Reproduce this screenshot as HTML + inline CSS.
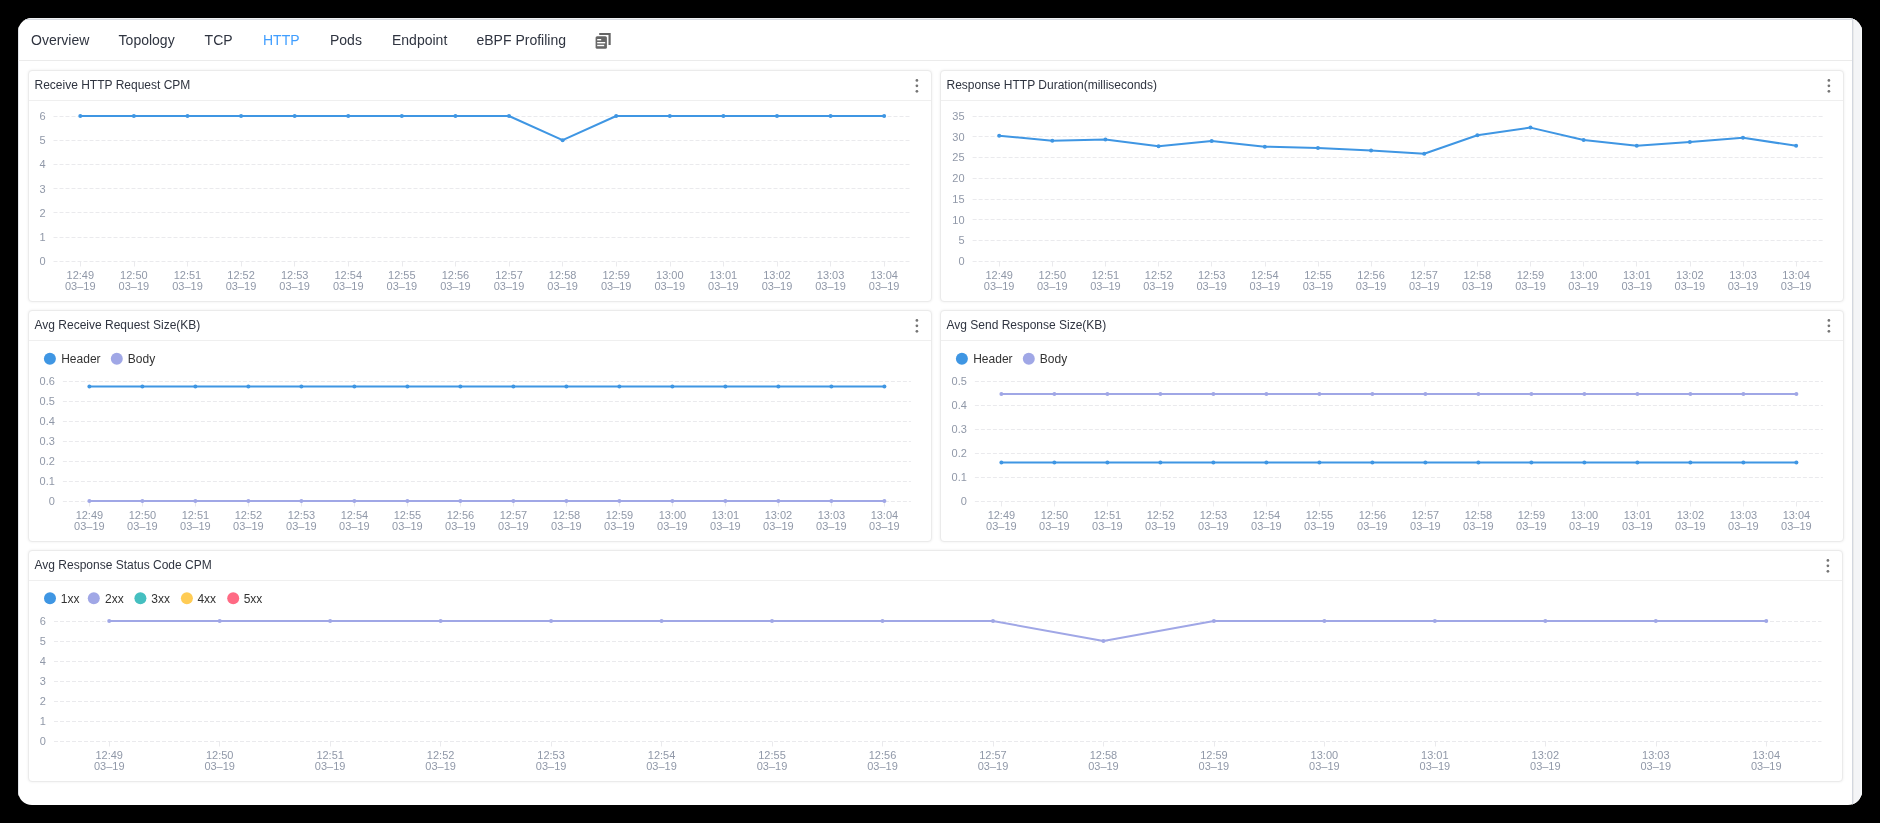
<!DOCTYPE html>
<html><head><meta charset="utf-8"><style>
html,body{margin:0;padding:0;background:#000;width:1880px;height:823px;overflow:hidden;font-family:"Liberation Sans", sans-serif;}
.card{position:absolute;left:18px;top:18px;width:1844px;height:787px;background:#fff;border-radius:14px;overflow:hidden;}
.topline{position:absolute;left:0;top:0;width:100%;height:1px;background:#eef0f3;border-bottom:1px solid #d8dbe2;}
.leftline{position:absolute;left:0;top:0;width:1px;height:100%;background:#dfe2e8;}
.gutter{position:absolute;right:0;top:0;width:9px;height:100%;background:#f4f5f7;border-left:1px solid #d3d7df;box-shadow:inset 1px 0 #e9eaea, inset -1px 0 #f9fafb;}
.tabline{position:absolute;left:0;top:42px;width:1834px;height:1px;background:#ebebeb;}
.p{position:absolute;box-sizing:border-box;border:1px solid #ebebeb;border-radius:4px;background:#fff;box-shadow:0 0 3px rgba(0,0,0,0.07);}
.h{position:absolute;left:0;right:0;top:29px;height:1px;background:#efefef;}
svg{position:absolute;left:0;top:0;will-change:transform;}
</style></head><body>
<div class="card"><div class="topline"></div><div class="leftline"></div><div class="gutter"></div><div class="tabline"></div></div>
<div class="p" style="left:28px;top:70px;width:904px;height:232px"><div class="h"></div></div><div class="p" style="left:940px;top:70px;width:904px;height:232px"><div class="h"></div></div><div class="p" style="left:28px;top:310px;width:904px;height:232px"><div class="h"></div></div><div class="p" style="left:940px;top:310px;width:904px;height:232px"><div class="h"></div></div><div class="p" style="left:28px;top:550px;width:1815px;height:232px"><div class="h"></div></div>
<svg width="1880" height="823" viewBox="0 0 1880 823" font-family=""Liberation Sans", sans-serif">
<line x1="53.50" y1="261.50" x2="910.94" y2="261.50" stroke="#eaeaed" stroke-width="1" stroke-dasharray="4 2"/>
<text x="45.50" y="265.00" font-size="11" fill="#9098a8" text-anchor="end">0</text>
<line x1="53.50" y1="237.50" x2="910.94" y2="237.50" stroke="#eaeaed" stroke-width="1" stroke-dasharray="4 2"/>
<text x="45.50" y="240.83" font-size="11" fill="#9098a8" text-anchor="end">1</text>
<line x1="53.50" y1="212.50" x2="910.94" y2="212.50" stroke="#eaeaed" stroke-width="1" stroke-dasharray="4 2"/>
<text x="45.50" y="216.67" font-size="11" fill="#9098a8" text-anchor="end">2</text>
<line x1="53.50" y1="188.50" x2="910.94" y2="188.50" stroke="#eaeaed" stroke-width="1" stroke-dasharray="4 2"/>
<text x="45.50" y="192.50" font-size="11" fill="#9098a8" text-anchor="end">3</text>
<line x1="53.50" y1="164.50" x2="910.94" y2="164.50" stroke="#eaeaed" stroke-width="1" stroke-dasharray="4 2"/>
<text x="45.50" y="168.33" font-size="11" fill="#9098a8" text-anchor="end">4</text>
<line x1="53.50" y1="140.50" x2="910.94" y2="140.50" stroke="#eaeaed" stroke-width="1" stroke-dasharray="4 2"/>
<text x="45.50" y="144.17" font-size="11" fill="#9098a8" text-anchor="end">5</text>
<line x1="53.50" y1="116.50" x2="910.94" y2="116.50" stroke="#eaeaed" stroke-width="1" stroke-dasharray="4 2"/>
<text x="45.50" y="120.00" font-size="11" fill="#9098a8" text-anchor="end">6</text>
<line x1="80.50" y1="261.50" x2="80.50" y2="266.50" stroke="#eaeaed" stroke-width="1"/>
<text x="80.30" y="279.00" font-size="11" fill="#9098a8" text-anchor="middle">12:49</text>
<text x="80.30" y="290.00" font-size="11" fill="#9098a8" text-anchor="middle">03–19</text>
<line x1="134.50" y1="261.50" x2="134.50" y2="266.50" stroke="#eaeaed" stroke-width="1"/>
<text x="133.88" y="279.00" font-size="11" fill="#9098a8" text-anchor="middle">12:50</text>
<text x="133.88" y="290.00" font-size="11" fill="#9098a8" text-anchor="middle">03–19</text>
<line x1="187.50" y1="261.50" x2="187.50" y2="266.50" stroke="#eaeaed" stroke-width="1"/>
<text x="187.48" y="279.00" font-size="11" fill="#9098a8" text-anchor="middle">12:51</text>
<text x="187.48" y="290.00" font-size="11" fill="#9098a8" text-anchor="middle">03–19</text>
<line x1="241.50" y1="261.50" x2="241.50" y2="266.50" stroke="#eaeaed" stroke-width="1"/>
<text x="241.06" y="279.00" font-size="11" fill="#9098a8" text-anchor="middle">12:52</text>
<text x="241.06" y="290.00" font-size="11" fill="#9098a8" text-anchor="middle">03–19</text>
<line x1="294.50" y1="261.50" x2="294.50" y2="266.50" stroke="#eaeaed" stroke-width="1"/>
<text x="294.66" y="279.00" font-size="11" fill="#9098a8" text-anchor="middle">12:53</text>
<text x="294.66" y="290.00" font-size="11" fill="#9098a8" text-anchor="middle">03–19</text>
<line x1="348.50" y1="261.50" x2="348.50" y2="266.50" stroke="#eaeaed" stroke-width="1"/>
<text x="348.25" y="279.00" font-size="11" fill="#9098a8" text-anchor="middle">12:54</text>
<text x="348.25" y="290.00" font-size="11" fill="#9098a8" text-anchor="middle">03–19</text>
<line x1="402.50" y1="261.50" x2="402.50" y2="266.50" stroke="#eaeaed" stroke-width="1"/>
<text x="401.84" y="279.00" font-size="11" fill="#9098a8" text-anchor="middle">12:55</text>
<text x="401.84" y="290.00" font-size="11" fill="#9098a8" text-anchor="middle">03–19</text>
<line x1="455.50" y1="261.50" x2="455.50" y2="266.50" stroke="#eaeaed" stroke-width="1"/>
<text x="455.43" y="279.00" font-size="11" fill="#9098a8" text-anchor="middle">12:56</text>
<text x="455.43" y="290.00" font-size="11" fill="#9098a8" text-anchor="middle">03–19</text>
<line x1="509.50" y1="261.50" x2="509.50" y2="266.50" stroke="#eaeaed" stroke-width="1"/>
<text x="509.02" y="279.00" font-size="11" fill="#9098a8" text-anchor="middle">12:57</text>
<text x="509.02" y="290.00" font-size="11" fill="#9098a8" text-anchor="middle">03–19</text>
<line x1="562.50" y1="261.50" x2="562.50" y2="266.50" stroke="#eaeaed" stroke-width="1"/>
<text x="562.61" y="279.00" font-size="11" fill="#9098a8" text-anchor="middle">12:58</text>
<text x="562.61" y="290.00" font-size="11" fill="#9098a8" text-anchor="middle">03–19</text>
<line x1="616.50" y1="261.50" x2="616.50" y2="266.50" stroke="#eaeaed" stroke-width="1"/>
<text x="616.20" y="279.00" font-size="11" fill="#9098a8" text-anchor="middle">12:59</text>
<text x="616.20" y="290.00" font-size="11" fill="#9098a8" text-anchor="middle">03–19</text>
<line x1="670.50" y1="261.50" x2="670.50" y2="266.50" stroke="#eaeaed" stroke-width="1"/>
<text x="669.79" y="279.00" font-size="11" fill="#9098a8" text-anchor="middle">13:00</text>
<text x="669.79" y="290.00" font-size="11" fill="#9098a8" text-anchor="middle">03–19</text>
<line x1="723.50" y1="261.50" x2="723.50" y2="266.50" stroke="#eaeaed" stroke-width="1"/>
<text x="723.38" y="279.00" font-size="11" fill="#9098a8" text-anchor="middle">13:01</text>
<text x="723.38" y="290.00" font-size="11" fill="#9098a8" text-anchor="middle">03–19</text>
<line x1="777.50" y1="261.50" x2="777.50" y2="266.50" stroke="#eaeaed" stroke-width="1"/>
<text x="776.97" y="279.00" font-size="11" fill="#9098a8" text-anchor="middle">13:02</text>
<text x="776.97" y="290.00" font-size="11" fill="#9098a8" text-anchor="middle">03–19</text>
<line x1="830.50" y1="261.50" x2="830.50" y2="266.50" stroke="#eaeaed" stroke-width="1"/>
<text x="830.56" y="279.00" font-size="11" fill="#9098a8" text-anchor="middle">13:03</text>
<text x="830.56" y="290.00" font-size="11" fill="#9098a8" text-anchor="middle">03–19</text>
<line x1="884.50" y1="261.50" x2="884.50" y2="266.50" stroke="#eaeaed" stroke-width="1"/>
<text x="884.15" y="279.00" font-size="11" fill="#9098a8" text-anchor="middle">13:04</text>
<text x="884.15" y="290.00" font-size="11" fill="#9098a8" text-anchor="middle">03–19</text>
<polyline points="80.30,116.00 133.88,116.00 187.48,116.00 241.06,116.00 294.66,116.00 348.25,116.00 401.84,116.00 455.43,116.00 509.02,116.00 562.61,140.17 616.20,116.00 669.79,116.00 723.38,116.00 776.97,116.00 830.56,116.00 884.15,116.00" fill="none" stroke="#3f96e3" stroke-width="2" stroke-linejoin="round"/>
<circle cx="80.30" cy="116.00" r="2" fill="#3f96e3"/>
<circle cx="133.88" cy="116.00" r="2" fill="#3f96e3"/>
<circle cx="187.48" cy="116.00" r="2" fill="#3f96e3"/>
<circle cx="241.06" cy="116.00" r="2" fill="#3f96e3"/>
<circle cx="294.66" cy="116.00" r="2" fill="#3f96e3"/>
<circle cx="348.25" cy="116.00" r="2" fill="#3f96e3"/>
<circle cx="401.84" cy="116.00" r="2" fill="#3f96e3"/>
<circle cx="455.43" cy="116.00" r="2" fill="#3f96e3"/>
<circle cx="509.02" cy="116.00" r="2" fill="#3f96e3"/>
<circle cx="562.61" cy="140.17" r="2" fill="#3f96e3"/>
<circle cx="616.20" cy="116.00" r="2" fill="#3f96e3"/>
<circle cx="669.79" cy="116.00" r="2" fill="#3f96e3"/>
<circle cx="723.38" cy="116.00" r="2" fill="#3f96e3"/>
<circle cx="776.97" cy="116.00" r="2" fill="#3f96e3"/>
<circle cx="830.56" cy="116.00" r="2" fill="#3f96e3"/>
<circle cx="884.15" cy="116.00" r="2" fill="#3f96e3"/>
<line x1="972.60" y1="261.50" x2="1822.70" y2="261.50" stroke="#eaeaed" stroke-width="1" stroke-dasharray="4 2"/>
<text x="964.60" y="265.00" font-size="11" fill="#9098a8" text-anchor="end">0</text>
<line x1="972.60" y1="240.50" x2="1822.70" y2="240.50" stroke="#eaeaed" stroke-width="1" stroke-dasharray="4 2"/>
<text x="964.60" y="244.29" font-size="11" fill="#9098a8" text-anchor="end">5</text>
<line x1="972.60" y1="219.50" x2="1822.70" y2="219.50" stroke="#eaeaed" stroke-width="1" stroke-dasharray="4 2"/>
<text x="964.60" y="223.57" font-size="11" fill="#9098a8" text-anchor="end">10</text>
<line x1="972.60" y1="199.50" x2="1822.70" y2="199.50" stroke="#eaeaed" stroke-width="1" stroke-dasharray="4 2"/>
<text x="964.60" y="202.86" font-size="11" fill="#9098a8" text-anchor="end">15</text>
<line x1="972.60" y1="178.50" x2="1822.70" y2="178.50" stroke="#eaeaed" stroke-width="1" stroke-dasharray="4 2"/>
<text x="964.60" y="182.14" font-size="11" fill="#9098a8" text-anchor="end">20</text>
<line x1="972.60" y1="157.50" x2="1822.70" y2="157.50" stroke="#eaeaed" stroke-width="1" stroke-dasharray="4 2"/>
<text x="964.60" y="161.43" font-size="11" fill="#9098a8" text-anchor="end">25</text>
<line x1="972.60" y1="136.50" x2="1822.70" y2="136.50" stroke="#eaeaed" stroke-width="1" stroke-dasharray="4 2"/>
<text x="964.60" y="140.71" font-size="11" fill="#9098a8" text-anchor="end">30</text>
<line x1="972.60" y1="116.50" x2="1822.70" y2="116.50" stroke="#eaeaed" stroke-width="1" stroke-dasharray="4 2"/>
<text x="964.60" y="120.00" font-size="11" fill="#9098a8" text-anchor="end">35</text>
<line x1="999.50" y1="261.50" x2="999.50" y2="266.50" stroke="#eaeaed" stroke-width="1"/>
<text x="999.17" y="279.00" font-size="11" fill="#9098a8" text-anchor="middle">12:49</text>
<text x="999.17" y="290.00" font-size="11" fill="#9098a8" text-anchor="middle">03–19</text>
<line x1="1052.50" y1="261.50" x2="1052.50" y2="266.50" stroke="#eaeaed" stroke-width="1"/>
<text x="1052.30" y="279.00" font-size="11" fill="#9098a8" text-anchor="middle">12:50</text>
<text x="1052.30" y="290.00" font-size="11" fill="#9098a8" text-anchor="middle">03–19</text>
<line x1="1105.50" y1="261.50" x2="1105.50" y2="266.50" stroke="#eaeaed" stroke-width="1"/>
<text x="1105.43" y="279.00" font-size="11" fill="#9098a8" text-anchor="middle">12:51</text>
<text x="1105.43" y="290.00" font-size="11" fill="#9098a8" text-anchor="middle">03–19</text>
<line x1="1158.50" y1="261.50" x2="1158.50" y2="266.50" stroke="#eaeaed" stroke-width="1"/>
<text x="1158.56" y="279.00" font-size="11" fill="#9098a8" text-anchor="middle">12:52</text>
<text x="1158.56" y="290.00" font-size="11" fill="#9098a8" text-anchor="middle">03–19</text>
<line x1="1211.50" y1="261.50" x2="1211.50" y2="266.50" stroke="#eaeaed" stroke-width="1"/>
<text x="1211.69" y="279.00" font-size="11" fill="#9098a8" text-anchor="middle">12:53</text>
<text x="1211.69" y="290.00" font-size="11" fill="#9098a8" text-anchor="middle">03–19</text>
<line x1="1265.50" y1="261.50" x2="1265.50" y2="266.50" stroke="#eaeaed" stroke-width="1"/>
<text x="1264.82" y="279.00" font-size="11" fill="#9098a8" text-anchor="middle">12:54</text>
<text x="1264.82" y="290.00" font-size="11" fill="#9098a8" text-anchor="middle">03–19</text>
<line x1="1318.50" y1="261.50" x2="1318.50" y2="266.50" stroke="#eaeaed" stroke-width="1"/>
<text x="1317.95" y="279.00" font-size="11" fill="#9098a8" text-anchor="middle">12:55</text>
<text x="1317.95" y="290.00" font-size="11" fill="#9098a8" text-anchor="middle">03–19</text>
<line x1="1371.50" y1="261.50" x2="1371.50" y2="266.50" stroke="#eaeaed" stroke-width="1"/>
<text x="1371.08" y="279.00" font-size="11" fill="#9098a8" text-anchor="middle">12:56</text>
<text x="1371.08" y="290.00" font-size="11" fill="#9098a8" text-anchor="middle">03–19</text>
<line x1="1424.50" y1="261.50" x2="1424.50" y2="266.50" stroke="#eaeaed" stroke-width="1"/>
<text x="1424.22" y="279.00" font-size="11" fill="#9098a8" text-anchor="middle">12:57</text>
<text x="1424.22" y="290.00" font-size="11" fill="#9098a8" text-anchor="middle">03–19</text>
<line x1="1477.50" y1="261.50" x2="1477.50" y2="266.50" stroke="#eaeaed" stroke-width="1"/>
<text x="1477.35" y="279.00" font-size="11" fill="#9098a8" text-anchor="middle">12:58</text>
<text x="1477.35" y="290.00" font-size="11" fill="#9098a8" text-anchor="middle">03–19</text>
<line x1="1530.50" y1="261.50" x2="1530.50" y2="266.50" stroke="#eaeaed" stroke-width="1"/>
<text x="1530.48" y="279.00" font-size="11" fill="#9098a8" text-anchor="middle">12:59</text>
<text x="1530.48" y="290.00" font-size="11" fill="#9098a8" text-anchor="middle">03–19</text>
<line x1="1583.50" y1="261.50" x2="1583.50" y2="266.50" stroke="#eaeaed" stroke-width="1"/>
<text x="1583.61" y="279.00" font-size="11" fill="#9098a8" text-anchor="middle">13:00</text>
<text x="1583.61" y="290.00" font-size="11" fill="#9098a8" text-anchor="middle">03–19</text>
<line x1="1636.50" y1="261.50" x2="1636.50" y2="266.50" stroke="#eaeaed" stroke-width="1"/>
<text x="1636.74" y="279.00" font-size="11" fill="#9098a8" text-anchor="middle">13:01</text>
<text x="1636.74" y="290.00" font-size="11" fill="#9098a8" text-anchor="middle">03–19</text>
<line x1="1690.50" y1="261.50" x2="1690.50" y2="266.50" stroke="#eaeaed" stroke-width="1"/>
<text x="1689.87" y="279.00" font-size="11" fill="#9098a8" text-anchor="middle">13:02</text>
<text x="1689.87" y="290.00" font-size="11" fill="#9098a8" text-anchor="middle">03–19</text>
<line x1="1743.50" y1="261.50" x2="1743.50" y2="266.50" stroke="#eaeaed" stroke-width="1"/>
<text x="1743.00" y="279.00" font-size="11" fill="#9098a8" text-anchor="middle">13:03</text>
<text x="1743.00" y="290.00" font-size="11" fill="#9098a8" text-anchor="middle">03–19</text>
<line x1="1796.50" y1="261.50" x2="1796.50" y2="266.50" stroke="#eaeaed" stroke-width="1"/>
<text x="1796.13" y="279.00" font-size="11" fill="#9098a8" text-anchor="middle">13:04</text>
<text x="1796.13" y="290.00" font-size="11" fill="#9098a8" text-anchor="middle">03–19</text>
<polyline points="999.17,135.70 1052.30,140.70 1105.43,139.50 1158.56,146.30 1211.69,141.10 1264.82,146.70 1317.95,147.90 1371.08,150.50 1424.22,153.80 1477.35,135.30 1530.48,127.60 1583.61,140.00 1636.74,145.80 1689.87,142.10 1743.00,137.80 1796.13,145.80" fill="none" stroke="#3f96e3" stroke-width="2" stroke-linejoin="round"/>
<circle cx="999.17" cy="135.70" r="2" fill="#3f96e3"/>
<circle cx="1052.30" cy="140.70" r="2" fill="#3f96e3"/>
<circle cx="1105.43" cy="139.50" r="2" fill="#3f96e3"/>
<circle cx="1158.56" cy="146.30" r="2" fill="#3f96e3"/>
<circle cx="1211.69" cy="141.10" r="2" fill="#3f96e3"/>
<circle cx="1264.82" cy="146.70" r="2" fill="#3f96e3"/>
<circle cx="1317.95" cy="147.90" r="2" fill="#3f96e3"/>
<circle cx="1371.08" cy="150.50" r="2" fill="#3f96e3"/>
<circle cx="1424.22" cy="153.80" r="2" fill="#3f96e3"/>
<circle cx="1477.35" cy="135.30" r="2" fill="#3f96e3"/>
<circle cx="1530.48" cy="127.60" r="2" fill="#3f96e3"/>
<circle cx="1583.61" cy="140.00" r="2" fill="#3f96e3"/>
<circle cx="1636.74" cy="145.80" r="2" fill="#3f96e3"/>
<circle cx="1689.87" cy="142.10" r="2" fill="#3f96e3"/>
<circle cx="1743.00" cy="137.80" r="2" fill="#3f96e3"/>
<circle cx="1796.13" cy="145.80" r="2" fill="#3f96e3"/>
<line x1="62.90" y1="501.50" x2="910.90" y2="501.50" stroke="#eaeaed" stroke-width="1" stroke-dasharray="4 2"/>
<text x="54.90" y="505.00" font-size="11" fill="#9098a8" text-anchor="end">0</text>
<line x1="62.90" y1="481.50" x2="910.90" y2="481.50" stroke="#eaeaed" stroke-width="1" stroke-dasharray="4 2"/>
<text x="54.90" y="485.00" font-size="11" fill="#9098a8" text-anchor="end">0.1</text>
<line x1="62.90" y1="461.50" x2="910.90" y2="461.50" stroke="#eaeaed" stroke-width="1" stroke-dasharray="4 2"/>
<text x="54.90" y="465.00" font-size="11" fill="#9098a8" text-anchor="end">0.2</text>
<line x1="62.90" y1="441.50" x2="910.90" y2="441.50" stroke="#eaeaed" stroke-width="1" stroke-dasharray="4 2"/>
<text x="54.90" y="445.00" font-size="11" fill="#9098a8" text-anchor="end">0.3</text>
<line x1="62.90" y1="421.50" x2="910.90" y2="421.50" stroke="#eaeaed" stroke-width="1" stroke-dasharray="4 2"/>
<text x="54.90" y="425.00" font-size="11" fill="#9098a8" text-anchor="end">0.4</text>
<line x1="62.90" y1="401.50" x2="910.90" y2="401.50" stroke="#eaeaed" stroke-width="1" stroke-dasharray="4 2"/>
<text x="54.90" y="405.00" font-size="11" fill="#9098a8" text-anchor="end">0.5</text>
<line x1="62.90" y1="381.50" x2="910.90" y2="381.50" stroke="#eaeaed" stroke-width="1" stroke-dasharray="4 2"/>
<text x="54.90" y="385.00" font-size="11" fill="#9098a8" text-anchor="end">0.6</text>
<line x1="89.50" y1="501.50" x2="89.50" y2="506.50" stroke="#eaeaed" stroke-width="1"/>
<text x="89.40" y="519.00" font-size="11" fill="#9098a8" text-anchor="middle">12:49</text>
<text x="89.40" y="530.00" font-size="11" fill="#9098a8" text-anchor="middle">03–19</text>
<line x1="142.50" y1="501.50" x2="142.50" y2="506.50" stroke="#eaeaed" stroke-width="1"/>
<text x="142.40" y="519.00" font-size="11" fill="#9098a8" text-anchor="middle">12:50</text>
<text x="142.40" y="530.00" font-size="11" fill="#9098a8" text-anchor="middle">03–19</text>
<line x1="195.50" y1="501.50" x2="195.50" y2="506.50" stroke="#eaeaed" stroke-width="1"/>
<text x="195.40" y="519.00" font-size="11" fill="#9098a8" text-anchor="middle">12:51</text>
<text x="195.40" y="530.00" font-size="11" fill="#9098a8" text-anchor="middle">03–19</text>
<line x1="248.50" y1="501.50" x2="248.50" y2="506.50" stroke="#eaeaed" stroke-width="1"/>
<text x="248.40" y="519.00" font-size="11" fill="#9098a8" text-anchor="middle">12:52</text>
<text x="248.40" y="530.00" font-size="11" fill="#9098a8" text-anchor="middle">03–19</text>
<line x1="301.50" y1="501.50" x2="301.50" y2="506.50" stroke="#eaeaed" stroke-width="1"/>
<text x="301.40" y="519.00" font-size="11" fill="#9098a8" text-anchor="middle">12:53</text>
<text x="301.40" y="530.00" font-size="11" fill="#9098a8" text-anchor="middle">03–19</text>
<line x1="354.50" y1="501.50" x2="354.50" y2="506.50" stroke="#eaeaed" stroke-width="1"/>
<text x="354.40" y="519.00" font-size="11" fill="#9098a8" text-anchor="middle">12:54</text>
<text x="354.40" y="530.00" font-size="11" fill="#9098a8" text-anchor="middle">03–19</text>
<line x1="407.50" y1="501.50" x2="407.50" y2="506.50" stroke="#eaeaed" stroke-width="1"/>
<text x="407.40" y="519.00" font-size="11" fill="#9098a8" text-anchor="middle">12:55</text>
<text x="407.40" y="530.00" font-size="11" fill="#9098a8" text-anchor="middle">03–19</text>
<line x1="460.50" y1="501.50" x2="460.50" y2="506.50" stroke="#eaeaed" stroke-width="1"/>
<text x="460.40" y="519.00" font-size="11" fill="#9098a8" text-anchor="middle">12:56</text>
<text x="460.40" y="530.00" font-size="11" fill="#9098a8" text-anchor="middle">03–19</text>
<line x1="513.50" y1="501.50" x2="513.50" y2="506.50" stroke="#eaeaed" stroke-width="1"/>
<text x="513.40" y="519.00" font-size="11" fill="#9098a8" text-anchor="middle">12:57</text>
<text x="513.40" y="530.00" font-size="11" fill="#9098a8" text-anchor="middle">03–19</text>
<line x1="566.50" y1="501.50" x2="566.50" y2="506.50" stroke="#eaeaed" stroke-width="1"/>
<text x="566.40" y="519.00" font-size="11" fill="#9098a8" text-anchor="middle">12:58</text>
<text x="566.40" y="530.00" font-size="11" fill="#9098a8" text-anchor="middle">03–19</text>
<line x1="619.50" y1="501.50" x2="619.50" y2="506.50" stroke="#eaeaed" stroke-width="1"/>
<text x="619.40" y="519.00" font-size="11" fill="#9098a8" text-anchor="middle">12:59</text>
<text x="619.40" y="530.00" font-size="11" fill="#9098a8" text-anchor="middle">03–19</text>
<line x1="672.50" y1="501.50" x2="672.50" y2="506.50" stroke="#eaeaed" stroke-width="1"/>
<text x="672.40" y="519.00" font-size="11" fill="#9098a8" text-anchor="middle">13:00</text>
<text x="672.40" y="530.00" font-size="11" fill="#9098a8" text-anchor="middle">03–19</text>
<line x1="725.50" y1="501.50" x2="725.50" y2="506.50" stroke="#eaeaed" stroke-width="1"/>
<text x="725.40" y="519.00" font-size="11" fill="#9098a8" text-anchor="middle">13:01</text>
<text x="725.40" y="530.00" font-size="11" fill="#9098a8" text-anchor="middle">03–19</text>
<line x1="778.50" y1="501.50" x2="778.50" y2="506.50" stroke="#eaeaed" stroke-width="1"/>
<text x="778.40" y="519.00" font-size="11" fill="#9098a8" text-anchor="middle">13:02</text>
<text x="778.40" y="530.00" font-size="11" fill="#9098a8" text-anchor="middle">03–19</text>
<line x1="831.50" y1="501.50" x2="831.50" y2="506.50" stroke="#eaeaed" stroke-width="1"/>
<text x="831.40" y="519.00" font-size="11" fill="#9098a8" text-anchor="middle">13:03</text>
<text x="831.40" y="530.00" font-size="11" fill="#9098a8" text-anchor="middle">03–19</text>
<line x1="884.50" y1="501.50" x2="884.50" y2="506.50" stroke="#eaeaed" stroke-width="1"/>
<text x="884.40" y="519.00" font-size="11" fill="#9098a8" text-anchor="middle">13:04</text>
<text x="884.40" y="530.00" font-size="11" fill="#9098a8" text-anchor="middle">03–19</text>
<polyline points="89.40,501.00 142.40,501.00 195.40,501.00 248.40,501.00 301.40,501.00 354.40,501.00 407.40,501.00 460.40,501.00 513.40,501.00 566.40,501.00 619.40,501.00 672.40,501.00 725.40,501.00 778.40,501.00 831.40,501.00 884.40,501.00" fill="none" stroke="#a0a7e6" stroke-width="2" stroke-linejoin="round"/>
<circle cx="89.40" cy="501.00" r="2" fill="#a0a7e6"/>
<circle cx="142.40" cy="501.00" r="2" fill="#a0a7e6"/>
<circle cx="195.40" cy="501.00" r="2" fill="#a0a7e6"/>
<circle cx="248.40" cy="501.00" r="2" fill="#a0a7e6"/>
<circle cx="301.40" cy="501.00" r="2" fill="#a0a7e6"/>
<circle cx="354.40" cy="501.00" r="2" fill="#a0a7e6"/>
<circle cx="407.40" cy="501.00" r="2" fill="#a0a7e6"/>
<circle cx="460.40" cy="501.00" r="2" fill="#a0a7e6"/>
<circle cx="513.40" cy="501.00" r="2" fill="#a0a7e6"/>
<circle cx="566.40" cy="501.00" r="2" fill="#a0a7e6"/>
<circle cx="619.40" cy="501.00" r="2" fill="#a0a7e6"/>
<circle cx="672.40" cy="501.00" r="2" fill="#a0a7e6"/>
<circle cx="725.40" cy="501.00" r="2" fill="#a0a7e6"/>
<circle cx="778.40" cy="501.00" r="2" fill="#a0a7e6"/>
<circle cx="831.40" cy="501.00" r="2" fill="#a0a7e6"/>
<circle cx="884.40" cy="501.00" r="2" fill="#a0a7e6"/>
<polyline points="89.40,386.40 142.40,386.40 195.40,386.40 248.40,386.40 301.40,386.40 354.40,386.40 407.40,386.40 460.40,386.40 513.40,386.40 566.40,386.40 619.40,386.40 672.40,386.40 725.40,386.40 778.40,386.40 831.40,386.40 884.40,386.40" fill="none" stroke="#3f96e3" stroke-width="2" stroke-linejoin="round"/>
<circle cx="89.40" cy="386.40" r="2" fill="#3f96e3"/>
<circle cx="142.40" cy="386.40" r="2" fill="#3f96e3"/>
<circle cx="195.40" cy="386.40" r="2" fill="#3f96e3"/>
<circle cx="248.40" cy="386.40" r="2" fill="#3f96e3"/>
<circle cx="301.40" cy="386.40" r="2" fill="#3f96e3"/>
<circle cx="354.40" cy="386.40" r="2" fill="#3f96e3"/>
<circle cx="407.40" cy="386.40" r="2" fill="#3f96e3"/>
<circle cx="460.40" cy="386.40" r="2" fill="#3f96e3"/>
<circle cx="513.40" cy="386.40" r="2" fill="#3f96e3"/>
<circle cx="566.40" cy="386.40" r="2" fill="#3f96e3"/>
<circle cx="619.40" cy="386.40" r="2" fill="#3f96e3"/>
<circle cx="672.40" cy="386.40" r="2" fill="#3f96e3"/>
<circle cx="725.40" cy="386.40" r="2" fill="#3f96e3"/>
<circle cx="778.40" cy="386.40" r="2" fill="#3f96e3"/>
<circle cx="831.40" cy="386.40" r="2" fill="#3f96e3"/>
<circle cx="884.40" cy="386.40" r="2" fill="#3f96e3"/>
<line x1="974.90" y1="501.50" x2="1822.90" y2="501.50" stroke="#eaeaed" stroke-width="1" stroke-dasharray="4 2"/>
<text x="966.90" y="505.00" font-size="11" fill="#9098a8" text-anchor="end">0</text>
<line x1="974.90" y1="477.50" x2="1822.90" y2="477.50" stroke="#eaeaed" stroke-width="1" stroke-dasharray="4 2"/>
<text x="966.90" y="481.00" font-size="11" fill="#9098a8" text-anchor="end">0.1</text>
<line x1="974.90" y1="453.50" x2="1822.90" y2="453.50" stroke="#eaeaed" stroke-width="1" stroke-dasharray="4 2"/>
<text x="966.90" y="457.00" font-size="11" fill="#9098a8" text-anchor="end">0.2</text>
<line x1="974.90" y1="429.50" x2="1822.90" y2="429.50" stroke="#eaeaed" stroke-width="1" stroke-dasharray="4 2"/>
<text x="966.90" y="433.00" font-size="11" fill="#9098a8" text-anchor="end">0.3</text>
<line x1="974.90" y1="405.50" x2="1822.90" y2="405.50" stroke="#eaeaed" stroke-width="1" stroke-dasharray="4 2"/>
<text x="966.90" y="409.00" font-size="11" fill="#9098a8" text-anchor="end">0.4</text>
<line x1="974.90" y1="381.50" x2="1822.90" y2="381.50" stroke="#eaeaed" stroke-width="1" stroke-dasharray="4 2"/>
<text x="966.90" y="385.00" font-size="11" fill="#9098a8" text-anchor="end">0.5</text>
<line x1="1001.50" y1="501.50" x2="1001.50" y2="506.50" stroke="#eaeaed" stroke-width="1"/>
<text x="1001.40" y="519.00" font-size="11" fill="#9098a8" text-anchor="middle">12:49</text>
<text x="1001.40" y="530.00" font-size="11" fill="#9098a8" text-anchor="middle">03–19</text>
<line x1="1054.50" y1="501.50" x2="1054.50" y2="506.50" stroke="#eaeaed" stroke-width="1"/>
<text x="1054.40" y="519.00" font-size="11" fill="#9098a8" text-anchor="middle">12:50</text>
<text x="1054.40" y="530.00" font-size="11" fill="#9098a8" text-anchor="middle">03–19</text>
<line x1="1107.50" y1="501.50" x2="1107.50" y2="506.50" stroke="#eaeaed" stroke-width="1"/>
<text x="1107.40" y="519.00" font-size="11" fill="#9098a8" text-anchor="middle">12:51</text>
<text x="1107.40" y="530.00" font-size="11" fill="#9098a8" text-anchor="middle">03–19</text>
<line x1="1160.50" y1="501.50" x2="1160.50" y2="506.50" stroke="#eaeaed" stroke-width="1"/>
<text x="1160.40" y="519.00" font-size="11" fill="#9098a8" text-anchor="middle">12:52</text>
<text x="1160.40" y="530.00" font-size="11" fill="#9098a8" text-anchor="middle">03–19</text>
<line x1="1213.50" y1="501.50" x2="1213.50" y2="506.50" stroke="#eaeaed" stroke-width="1"/>
<text x="1213.40" y="519.00" font-size="11" fill="#9098a8" text-anchor="middle">12:53</text>
<text x="1213.40" y="530.00" font-size="11" fill="#9098a8" text-anchor="middle">03–19</text>
<line x1="1266.50" y1="501.50" x2="1266.50" y2="506.50" stroke="#eaeaed" stroke-width="1"/>
<text x="1266.40" y="519.00" font-size="11" fill="#9098a8" text-anchor="middle">12:54</text>
<text x="1266.40" y="530.00" font-size="11" fill="#9098a8" text-anchor="middle">03–19</text>
<line x1="1319.50" y1="501.50" x2="1319.50" y2="506.50" stroke="#eaeaed" stroke-width="1"/>
<text x="1319.40" y="519.00" font-size="11" fill="#9098a8" text-anchor="middle">12:55</text>
<text x="1319.40" y="530.00" font-size="11" fill="#9098a8" text-anchor="middle">03–19</text>
<line x1="1372.50" y1="501.50" x2="1372.50" y2="506.50" stroke="#eaeaed" stroke-width="1"/>
<text x="1372.40" y="519.00" font-size="11" fill="#9098a8" text-anchor="middle">12:56</text>
<text x="1372.40" y="530.00" font-size="11" fill="#9098a8" text-anchor="middle">03–19</text>
<line x1="1425.50" y1="501.50" x2="1425.50" y2="506.50" stroke="#eaeaed" stroke-width="1"/>
<text x="1425.40" y="519.00" font-size="11" fill="#9098a8" text-anchor="middle">12:57</text>
<text x="1425.40" y="530.00" font-size="11" fill="#9098a8" text-anchor="middle">03–19</text>
<line x1="1478.50" y1="501.50" x2="1478.50" y2="506.50" stroke="#eaeaed" stroke-width="1"/>
<text x="1478.40" y="519.00" font-size="11" fill="#9098a8" text-anchor="middle">12:58</text>
<text x="1478.40" y="530.00" font-size="11" fill="#9098a8" text-anchor="middle">03–19</text>
<line x1="1531.50" y1="501.50" x2="1531.50" y2="506.50" stroke="#eaeaed" stroke-width="1"/>
<text x="1531.40" y="519.00" font-size="11" fill="#9098a8" text-anchor="middle">12:59</text>
<text x="1531.40" y="530.00" font-size="11" fill="#9098a8" text-anchor="middle">03–19</text>
<line x1="1584.50" y1="501.50" x2="1584.50" y2="506.50" stroke="#eaeaed" stroke-width="1"/>
<text x="1584.40" y="519.00" font-size="11" fill="#9098a8" text-anchor="middle">13:00</text>
<text x="1584.40" y="530.00" font-size="11" fill="#9098a8" text-anchor="middle">03–19</text>
<line x1="1637.50" y1="501.50" x2="1637.50" y2="506.50" stroke="#eaeaed" stroke-width="1"/>
<text x="1637.40" y="519.00" font-size="11" fill="#9098a8" text-anchor="middle">13:01</text>
<text x="1637.40" y="530.00" font-size="11" fill="#9098a8" text-anchor="middle">03–19</text>
<line x1="1690.50" y1="501.50" x2="1690.50" y2="506.50" stroke="#eaeaed" stroke-width="1"/>
<text x="1690.40" y="519.00" font-size="11" fill="#9098a8" text-anchor="middle">13:02</text>
<text x="1690.40" y="530.00" font-size="11" fill="#9098a8" text-anchor="middle">03–19</text>
<line x1="1743.50" y1="501.50" x2="1743.50" y2="506.50" stroke="#eaeaed" stroke-width="1"/>
<text x="1743.40" y="519.00" font-size="11" fill="#9098a8" text-anchor="middle">13:03</text>
<text x="1743.40" y="530.00" font-size="11" fill="#9098a8" text-anchor="middle">03–19</text>
<line x1="1796.50" y1="501.50" x2="1796.50" y2="506.50" stroke="#eaeaed" stroke-width="1"/>
<text x="1796.40" y="519.00" font-size="11" fill="#9098a8" text-anchor="middle">13:04</text>
<text x="1796.40" y="530.00" font-size="11" fill="#9098a8" text-anchor="middle">03–19</text>
<polyline points="1001.40,462.40 1054.40,462.40 1107.40,462.40 1160.40,462.40 1213.40,462.40 1266.40,462.40 1319.40,462.40 1372.40,462.40 1425.40,462.40 1478.40,462.40 1531.40,462.40 1584.40,462.40 1637.40,462.40 1690.40,462.40 1743.40,462.40 1796.40,462.40" fill="none" stroke="#3f96e3" stroke-width="2" stroke-linejoin="round"/>
<circle cx="1001.40" cy="462.40" r="2" fill="#3f96e3"/>
<circle cx="1054.40" cy="462.40" r="2" fill="#3f96e3"/>
<circle cx="1107.40" cy="462.40" r="2" fill="#3f96e3"/>
<circle cx="1160.40" cy="462.40" r="2" fill="#3f96e3"/>
<circle cx="1213.40" cy="462.40" r="2" fill="#3f96e3"/>
<circle cx="1266.40" cy="462.40" r="2" fill="#3f96e3"/>
<circle cx="1319.40" cy="462.40" r="2" fill="#3f96e3"/>
<circle cx="1372.40" cy="462.40" r="2" fill="#3f96e3"/>
<circle cx="1425.40" cy="462.40" r="2" fill="#3f96e3"/>
<circle cx="1478.40" cy="462.40" r="2" fill="#3f96e3"/>
<circle cx="1531.40" cy="462.40" r="2" fill="#3f96e3"/>
<circle cx="1584.40" cy="462.40" r="2" fill="#3f96e3"/>
<circle cx="1637.40" cy="462.40" r="2" fill="#3f96e3"/>
<circle cx="1690.40" cy="462.40" r="2" fill="#3f96e3"/>
<circle cx="1743.40" cy="462.40" r="2" fill="#3f96e3"/>
<circle cx="1796.40" cy="462.40" r="2" fill="#3f96e3"/>
<polyline points="1001.40,394.00 1054.40,394.00 1107.40,394.00 1160.40,394.00 1213.40,394.00 1266.40,394.00 1319.40,394.00 1372.40,394.00 1425.40,394.00 1478.40,394.00 1531.40,394.00 1584.40,394.00 1637.40,394.00 1690.40,394.00 1743.40,394.00 1796.40,394.00" fill="none" stroke="#a0a7e6" stroke-width="2" stroke-linejoin="round"/>
<circle cx="1001.40" cy="394.00" r="2" fill="#a0a7e6"/>
<circle cx="1054.40" cy="394.00" r="2" fill="#a0a7e6"/>
<circle cx="1107.40" cy="394.00" r="2" fill="#a0a7e6"/>
<circle cx="1160.40" cy="394.00" r="2" fill="#a0a7e6"/>
<circle cx="1213.40" cy="394.00" r="2" fill="#a0a7e6"/>
<circle cx="1266.40" cy="394.00" r="2" fill="#a0a7e6"/>
<circle cx="1319.40" cy="394.00" r="2" fill="#a0a7e6"/>
<circle cx="1372.40" cy="394.00" r="2" fill="#a0a7e6"/>
<circle cx="1425.40" cy="394.00" r="2" fill="#a0a7e6"/>
<circle cx="1478.40" cy="394.00" r="2" fill="#a0a7e6"/>
<circle cx="1531.40" cy="394.00" r="2" fill="#a0a7e6"/>
<circle cx="1584.40" cy="394.00" r="2" fill="#a0a7e6"/>
<circle cx="1637.40" cy="394.00" r="2" fill="#a0a7e6"/>
<circle cx="1690.40" cy="394.00" r="2" fill="#a0a7e6"/>
<circle cx="1743.40" cy="394.00" r="2" fill="#a0a7e6"/>
<circle cx="1796.40" cy="394.00" r="2" fill="#a0a7e6"/>
<line x1="53.97" y1="741.50" x2="1821.50" y2="741.50" stroke="#eaeaed" stroke-width="1" stroke-dasharray="4 2"/>
<text x="45.97" y="745.00" font-size="11" fill="#9098a8" text-anchor="end">0</text>
<line x1="53.97" y1="721.50" x2="1821.50" y2="721.50" stroke="#eaeaed" stroke-width="1" stroke-dasharray="4 2"/>
<text x="45.97" y="725.00" font-size="11" fill="#9098a8" text-anchor="end">1</text>
<line x1="53.97" y1="701.50" x2="1821.50" y2="701.50" stroke="#eaeaed" stroke-width="1" stroke-dasharray="4 2"/>
<text x="45.97" y="705.00" font-size="11" fill="#9098a8" text-anchor="end">2</text>
<line x1="53.97" y1="681.50" x2="1821.50" y2="681.50" stroke="#eaeaed" stroke-width="1" stroke-dasharray="4 2"/>
<text x="45.97" y="685.00" font-size="11" fill="#9098a8" text-anchor="end">3</text>
<line x1="53.97" y1="661.50" x2="1821.50" y2="661.50" stroke="#eaeaed" stroke-width="1" stroke-dasharray="4 2"/>
<text x="45.97" y="665.00" font-size="11" fill="#9098a8" text-anchor="end">4</text>
<line x1="53.97" y1="641.50" x2="1821.50" y2="641.50" stroke="#eaeaed" stroke-width="1" stroke-dasharray="4 2"/>
<text x="45.97" y="645.00" font-size="11" fill="#9098a8" text-anchor="end">5</text>
<line x1="53.97" y1="621.50" x2="1821.50" y2="621.50" stroke="#eaeaed" stroke-width="1" stroke-dasharray="4 2"/>
<text x="45.97" y="625.00" font-size="11" fill="#9098a8" text-anchor="end">6</text>
<line x1="109.50" y1="741.50" x2="109.50" y2="746.50" stroke="#eaeaed" stroke-width="1"/>
<text x="109.21" y="759.00" font-size="11" fill="#9098a8" text-anchor="middle">12:49</text>
<text x="109.21" y="770.00" font-size="11" fill="#9098a8" text-anchor="middle">03–19</text>
<line x1="219.50" y1="741.50" x2="219.50" y2="746.50" stroke="#eaeaed" stroke-width="1"/>
<text x="219.68" y="759.00" font-size="11" fill="#9098a8" text-anchor="middle">12:50</text>
<text x="219.68" y="770.00" font-size="11" fill="#9098a8" text-anchor="middle">03–19</text>
<line x1="330.50" y1="741.50" x2="330.50" y2="746.50" stroke="#eaeaed" stroke-width="1"/>
<text x="330.15" y="759.00" font-size="11" fill="#9098a8" text-anchor="middle">12:51</text>
<text x="330.15" y="770.00" font-size="11" fill="#9098a8" text-anchor="middle">03–19</text>
<line x1="440.50" y1="741.50" x2="440.50" y2="746.50" stroke="#eaeaed" stroke-width="1"/>
<text x="440.62" y="759.00" font-size="11" fill="#9098a8" text-anchor="middle">12:52</text>
<text x="440.62" y="770.00" font-size="11" fill="#9098a8" text-anchor="middle">03–19</text>
<line x1="551.50" y1="741.50" x2="551.50" y2="746.50" stroke="#eaeaed" stroke-width="1"/>
<text x="551.09" y="759.00" font-size="11" fill="#9098a8" text-anchor="middle">12:53</text>
<text x="551.09" y="770.00" font-size="11" fill="#9098a8" text-anchor="middle">03–19</text>
<line x1="661.50" y1="741.50" x2="661.50" y2="746.50" stroke="#eaeaed" stroke-width="1"/>
<text x="661.56" y="759.00" font-size="11" fill="#9098a8" text-anchor="middle">12:54</text>
<text x="661.56" y="770.00" font-size="11" fill="#9098a8" text-anchor="middle">03–19</text>
<line x1="772.50" y1="741.50" x2="772.50" y2="746.50" stroke="#eaeaed" stroke-width="1"/>
<text x="772.03" y="759.00" font-size="11" fill="#9098a8" text-anchor="middle">12:55</text>
<text x="772.03" y="770.00" font-size="11" fill="#9098a8" text-anchor="middle">03–19</text>
<line x1="882.50" y1="741.50" x2="882.50" y2="746.50" stroke="#eaeaed" stroke-width="1"/>
<text x="882.50" y="759.00" font-size="11" fill="#9098a8" text-anchor="middle">12:56</text>
<text x="882.50" y="770.00" font-size="11" fill="#9098a8" text-anchor="middle">03–19</text>
<line x1="993.50" y1="741.50" x2="993.50" y2="746.50" stroke="#eaeaed" stroke-width="1"/>
<text x="992.97" y="759.00" font-size="11" fill="#9098a8" text-anchor="middle">12:57</text>
<text x="992.97" y="770.00" font-size="11" fill="#9098a8" text-anchor="middle">03–19</text>
<line x1="1103.50" y1="741.50" x2="1103.50" y2="746.50" stroke="#eaeaed" stroke-width="1"/>
<text x="1103.44" y="759.00" font-size="11" fill="#9098a8" text-anchor="middle">12:58</text>
<text x="1103.44" y="770.00" font-size="11" fill="#9098a8" text-anchor="middle">03–19</text>
<line x1="1214.50" y1="741.50" x2="1214.50" y2="746.50" stroke="#eaeaed" stroke-width="1"/>
<text x="1213.91" y="759.00" font-size="11" fill="#9098a8" text-anchor="middle">12:59</text>
<text x="1213.91" y="770.00" font-size="11" fill="#9098a8" text-anchor="middle">03–19</text>
<line x1="1324.50" y1="741.50" x2="1324.50" y2="746.50" stroke="#eaeaed" stroke-width="1"/>
<text x="1324.38" y="759.00" font-size="11" fill="#9098a8" text-anchor="middle">13:00</text>
<text x="1324.38" y="770.00" font-size="11" fill="#9098a8" text-anchor="middle">03–19</text>
<line x1="1435.50" y1="741.50" x2="1435.50" y2="746.50" stroke="#eaeaed" stroke-width="1"/>
<text x="1434.85" y="759.00" font-size="11" fill="#9098a8" text-anchor="middle">13:01</text>
<text x="1434.85" y="770.00" font-size="11" fill="#9098a8" text-anchor="middle">03–19</text>
<line x1="1545.50" y1="741.50" x2="1545.50" y2="746.50" stroke="#eaeaed" stroke-width="1"/>
<text x="1545.32" y="759.00" font-size="11" fill="#9098a8" text-anchor="middle">13:02</text>
<text x="1545.32" y="770.00" font-size="11" fill="#9098a8" text-anchor="middle">03–19</text>
<line x1="1656.50" y1="741.50" x2="1656.50" y2="746.50" stroke="#eaeaed" stroke-width="1"/>
<text x="1655.79" y="759.00" font-size="11" fill="#9098a8" text-anchor="middle">13:03</text>
<text x="1655.79" y="770.00" font-size="11" fill="#9098a8" text-anchor="middle">03–19</text>
<line x1="1766.50" y1="741.50" x2="1766.50" y2="746.50" stroke="#eaeaed" stroke-width="1"/>
<text x="1766.26" y="759.00" font-size="11" fill="#9098a8" text-anchor="middle">13:04</text>
<text x="1766.26" y="770.00" font-size="11" fill="#9098a8" text-anchor="middle">03–19</text>
<polyline points="109.21,621.00 219.68,621.00 330.15,621.00 440.62,621.00 551.09,621.00 661.56,621.00 772.03,621.00 882.50,621.00 992.97,621.00 1103.44,641.00 1213.91,621.00 1324.38,621.00 1434.85,621.00 1545.32,621.00 1655.79,621.00 1766.26,621.00" fill="none" stroke="#a0a7e6" stroke-width="2" stroke-linejoin="round"/>
<circle cx="109.21" cy="621.00" r="2" fill="#a0a7e6"/>
<circle cx="219.68" cy="621.00" r="2" fill="#a0a7e6"/>
<circle cx="330.15" cy="621.00" r="2" fill="#a0a7e6"/>
<circle cx="440.62" cy="621.00" r="2" fill="#a0a7e6"/>
<circle cx="551.09" cy="621.00" r="2" fill="#a0a7e6"/>
<circle cx="661.56" cy="621.00" r="2" fill="#a0a7e6"/>
<circle cx="772.03" cy="621.00" r="2" fill="#a0a7e6"/>
<circle cx="882.50" cy="621.00" r="2" fill="#a0a7e6"/>
<circle cx="992.97" cy="621.00" r="2" fill="#a0a7e6"/>
<circle cx="1103.44" cy="641.00" r="2" fill="#a0a7e6"/>
<circle cx="1213.91" cy="621.00" r="2" fill="#a0a7e6"/>
<circle cx="1324.38" cy="621.00" r="2" fill="#a0a7e6"/>
<circle cx="1434.85" cy="621.00" r="2" fill="#a0a7e6"/>
<circle cx="1545.32" cy="621.00" r="2" fill="#a0a7e6"/>
<circle cx="1655.79" cy="621.00" r="2" fill="#a0a7e6"/>
<circle cx="1766.26" cy="621.00" r="2" fill="#a0a7e6"/>
<circle cx="49.9" cy="358.7" r="6" fill="#3f96e3"/>
<text x="61.20" y="363.00" font-size="12" fill="#333" text-anchor="start">Header</text>
<circle cx="116.8" cy="358.7" r="6" fill="#a0a7e6"/>
<text x="127.80" y="363.00" font-size="12" fill="#333" text-anchor="start">Body</text>
<circle cx="961.9" cy="358.7" r="6" fill="#3f96e3"/>
<text x="973.20" y="363.00" font-size="12" fill="#333" text-anchor="start">Header</text>
<circle cx="1028.8" cy="358.7" r="6" fill="#a0a7e6"/>
<text x="1039.80" y="363.00" font-size="12" fill="#333" text-anchor="start">Body</text>
<circle cx="50" cy="598.3" r="6" fill="#3f96e3"/>
<text x="60.80" y="602.60" font-size="12" fill="#333" text-anchor="start">1xx</text>
<circle cx="93.8" cy="598.3" r="6" fill="#a0a7e6"/>
<text x="105.10" y="602.60" font-size="12" fill="#333" text-anchor="start">2xx</text>
<circle cx="140.4" cy="598.3" r="6" fill="#45bfc0"/>
<text x="151.30" y="602.60" font-size="12" fill="#333" text-anchor="start">3xx</text>
<circle cx="186.9" cy="598.3" r="6" fill="#ffcc55"/>
<text x="197.40" y="602.60" font-size="12" fill="#333" text-anchor="start">4xx</text>
<circle cx="233.2" cy="598.3" r="6" fill="#ff6a84"/>
<text x="243.70" y="602.60" font-size="12" fill="#333" text-anchor="start">5xx</text>
<text x="34.50" y="89.00" font-size="12" fill="#2f3440" text-anchor="start">Receive HTTP Request CPM</text>
<text x="946.50" y="89.00" font-size="12" fill="#2f3440" text-anchor="start">Response HTTP Duration(milliseconds)</text>
<text x="34.50" y="329.00" font-size="12" fill="#2f3440" text-anchor="start">Avg Receive Request Size(KB)</text>
<text x="946.50" y="329.00" font-size="12" fill="#2f3440" text-anchor="start">Avg Send Response Size(KB)</text>
<text x="34.50" y="569.00" font-size="12" fill="#2f3440" text-anchor="start">Avg Response Status Code CPM</text>
<circle cx="916.9" cy="80.40" r="1.35" fill="#747474"/>
<circle cx="916.9" cy="85.80" r="1.35" fill="#747474"/>
<circle cx="916.9" cy="91.30" r="1.35" fill="#747474"/>
<circle cx="1828.9" cy="80.40" r="1.35" fill="#747474"/>
<circle cx="1828.9" cy="85.80" r="1.35" fill="#747474"/>
<circle cx="1828.9" cy="91.30" r="1.35" fill="#747474"/>
<circle cx="916.9" cy="320.40" r="1.35" fill="#747474"/>
<circle cx="916.9" cy="325.80" r="1.35" fill="#747474"/>
<circle cx="916.9" cy="331.30" r="1.35" fill="#747474"/>
<circle cx="1828.9" cy="320.40" r="1.35" fill="#747474"/>
<circle cx="1828.9" cy="325.80" r="1.35" fill="#747474"/>
<circle cx="1828.9" cy="331.30" r="1.35" fill="#747474"/>
<circle cx="1827.9" cy="560.40" r="1.35" fill="#747474"/>
<circle cx="1827.9" cy="565.80" r="1.35" fill="#747474"/>
<circle cx="1827.9" cy="571.30" r="1.35" fill="#747474"/>
<text x="31.00" y="45.00" font-size="14" fill="#2f3440" text-anchor="start">Overview</text>
<text x="118.60" y="45.00" font-size="14" fill="#2f3440" text-anchor="start">Topology</text>
<text x="204.60" y="45.00" font-size="14" fill="#2f3440" text-anchor="start">TCP</text>
<text x="263.00" y="45.00" font-size="14" fill="#409eff" text-anchor="start">HTTP</text>
<text x="330.00" y="45.00" font-size="14" fill="#2f3440" text-anchor="start">Pods</text>
<text x="392.00" y="45.00" font-size="14" fill="#2f3440" text-anchor="start">Endpoint</text>
<text x="476.50" y="45.00" font-size="14" fill="#2f3440" text-anchor="start">eBPF Profiling</text>
<path d="M599.2 34 H609.6 V45" fill="none" stroke="#666" stroke-width="2.2"/>
<rect x="595.6" y="36.3" width="11.3" height="12.4" rx="1.5" fill="#666"/>
<rect x="597.2" y="39" width="4" height="1.4" fill="#fff"/>
<rect x="597.2" y="42" width="8" height="1.4" fill="#fff"/>
<rect x="597.2" y="44.8" width="7" height="1.4" fill="#fff"/>
</svg>
</body></html>
